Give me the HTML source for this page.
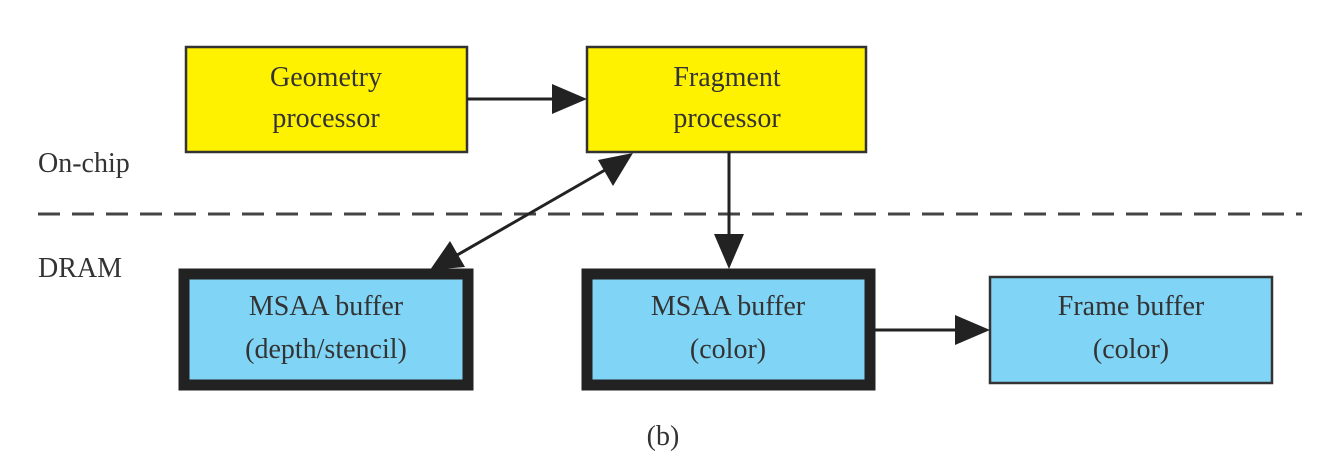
<!DOCTYPE html>
<html><head><style>
body{margin:0;background:#fff;}
svg text{font-family:"Liberation Serif",serif;font-size:28px;fill:#333;}
</style></head><body>
<svg width="1334" height="466" viewBox="0 0 1334 466" xmlns="http://www.w3.org/2000/svg">
<defs>
<marker id="a" markerWidth="10" markerHeight="10" refX="9" refY="5" orient="auto" markerUnits="userSpaceOnUse" viewBox="0 0 10 10">
</marker>
</defs>
<rect x="186" y="47" width="281" height="105" fill="#fff200" stroke="#333" stroke-width="2.5"/>
<rect x="587" y="47" width="279" height="105" fill="#fff200" stroke="#333" stroke-width="2.5"/>
<rect x="184" y="274" width="284" height="111" fill="#80d4f5" stroke="#222" stroke-width="11"/>
<rect x="587" y="274" width="283" height="111" fill="#80d4f5" stroke="#222" stroke-width="11"/>
<rect x="990" y="277" width="282" height="106" fill="#80d4f5" stroke="#333" stroke-width="2.5"/>
<line x1="38" y1="214" x2="1302" y2="214" stroke="#444" stroke-width="3" stroke-dasharray="22,12"/>
<!-- arrows -->
<line x1="467" y1="99" x2="560" y2="99" stroke="#222" stroke-width="3"/>
<polygon points="587,99 552,84 552,114" fill="#222"/>
<line x1="729" y1="152" x2="729" y2="240" stroke="#222" stroke-width="3"/>
<polygon points="729,269 714,234 744,234" fill="#222"/>
<line x1="875" y1="330" x2="962" y2="330" stroke="#222" stroke-width="3"/>
<polygon points="990,330 955,315 955,345" fill="#222"/>
<line x1="612" y1="166" x2="452" y2="258" stroke="#222" stroke-width="3"/>
<polygon points="633,153 598,160 613,186" fill="#222"/>
<polygon points="430,270 450,241 465,267" fill="#222"/>
<g text-anchor="middle">
<text x="326" y="86">Geometry</text><text x="326" y="127">processor</text>
<text x="727" y="86">Fragment</text><text x="727" y="127">processor</text>
<text x="326" y="315">MSAA buffer</text><text x="326" y="358">(depth/stencil)</text>
<text x="728" y="315">MSAA buffer</text><text x="728" y="358">(color)</text>
<text x="1131" y="315">Frame buffer</text><text x="1131" y="358">(color)</text>
<text x="663" y="445">(b)</text>
</g>
<text x="38" y="172">On-chip</text>
<text x="38" y="277">DRAM</text>
</svg>
</body></html>
